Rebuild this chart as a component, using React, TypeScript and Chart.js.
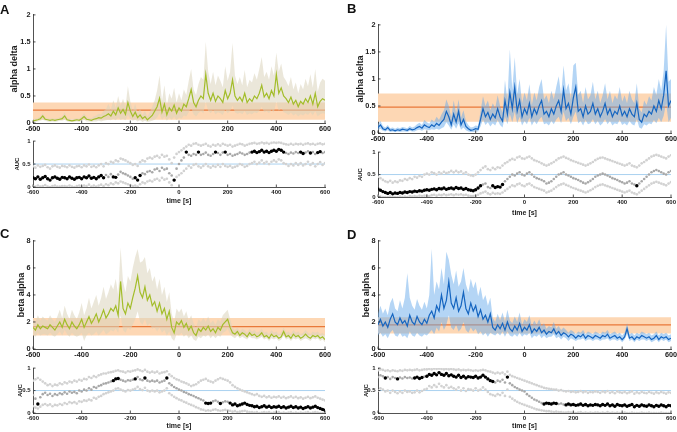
import React, { useEffect, useRef } from "react";
import { Chart, registerables } from "chart.js";

Chart.register(...registerables);
Chart.defaults.font.family = "'Liberation Sans', Arial, Helvetica, sans-serif";
Chart.defaults.color = "#1a1a1a";

// ---------- data ----------
const TIME: number[] = Array.from({ length: 121 }, (_, i) => -600 + 10 * i);
const X_TICKS = [-600, -400, -200, 0, 200, 400, 600];
const ALPHA_DELTA_TICKS = [0, 0.5, 1, 1.5, 2];
const BETA_ALPHA_TICKS = [0, 2, 4, 6, 8];
const AUC_TICKS = [0, 0.5, 1];
const AUC_CHANCE = 0.5;

// baseline reference [low, mean, high]
const A_REF = [0.06, 0.24, 0.38];
const B_REF = [0.21, 0.48, 0.73];
const C_REF = [1.0, 1.65, 2.3];
const D_REF = [1.14, 1.78, 2.34];

const A_MEAN = [
  0.04, 0.05, 0.06, 0.08, 0.13, 0.07, 0.06, 0.05, 0.06, 0.05,
  0.06, 0.07, 0.08, 0.13, 0.06, 0.05, 0.04, 0.05, 0.06, 0.05,
  0.08, 0.12, 0.07, 0.06, 0.05, 0.07, 0.08, 0.10, 0.09, 0.12,
  0.14, 0.17, 0.13, 0.22, 0.15, 0.28, 0.18, 0.25, 0.16, 0.38,
  0.22, 0.12, 0.20, 0.10, 0.15, 0.08, 0.12, 0.06, 0.10, 0.14,
  0.22, 0.30, 0.46, 0.20, 0.35, 0.15, 0.28, 0.22, 0.33, 0.18,
  0.28, 0.22, 0.35, 0.30, 0.45, 0.62, 0.38, 0.30, 0.42, 0.50,
  0.45, 0.90, 0.55, 0.42, 0.55, 0.40, 0.50, 0.45, 0.38, 0.60,
  0.45, 0.55, 0.80, 0.50, 0.42, 0.48, 0.40, 0.55, 0.38, 0.45,
  0.40, 0.50, 0.45, 0.55, 0.70, 0.48, 0.55, 0.45, 0.60, 0.50,
  0.90, 0.55, 0.65, 0.50, 0.45, 0.38, 0.48, 0.35, 0.42, 0.30,
  0.40, 0.35, 0.45, 0.38, 0.50, 0.35, 0.55, 0.30, 0.40, 0.45,
  0.42,
];
const A_UPPER = [
  0.07, 0.08, 0.09, 0.12, 0.18, 0.10, 0.09, 0.08, 0.09, 0.08,
  0.09, 0.10, 0.12, 0.20, 0.09, 0.08, 0.07, 0.08, 0.09, 0.08,
  0.12, 0.18, 0.11, 0.09, 0.09, 0.12, 0.14, 0.17, 0.16, 0.22,
  0.26, 0.35, 0.24, 0.42, 0.28, 0.50, 0.32, 0.45, 0.30, 0.68,
  0.40, 0.22, 0.35, 0.18, 0.26, 0.15, 0.22, 0.12, 0.20, 0.30,
  0.42, 0.60, 0.88, 0.40, 0.70, 0.32, 0.55, 0.45, 0.65, 0.38,
  0.55, 0.42, 0.62, 0.52, 0.78, 1.00, 0.62, 0.52, 0.72, 0.85,
  0.80, 1.50, 0.95, 0.72, 0.95, 0.70, 0.88, 0.78, 0.66, 1.05,
  0.78, 0.95, 1.48, 0.88, 0.72, 0.85, 0.70, 0.98, 0.66, 0.80,
  0.75, 0.92, 0.80, 1.00, 1.22, 0.85, 0.95, 0.80, 1.05, 0.88,
  1.30, 0.95, 1.10, 0.85, 0.78, 0.68, 0.85, 0.62, 0.75, 0.55,
  0.72, 0.62, 0.82, 0.68, 0.90, 0.65, 1.00, 0.58, 0.75, 0.82,
  0.78,
];
const A_LOWER = [
  0.02, 0.02, 0.03, 0.04, 0.06, 0.04, 0.03, 0.02, 0.03, 0.02,
  0.03, 0.04, 0.04, 0.06, 0.03, 0.02, 0.02, 0.02, 0.03, 0.02,
  0.04, 0.06, 0.03, 0.03, 0.02, 0.03, 0.03, 0.04, 0.03, 0.04,
  0.05, 0.06, 0.05, 0.08, 0.05, 0.10, 0.06, 0.08, 0.05, 0.15,
  0.08, 0.04, 0.06, 0.03, 0.05, 0.02, 0.04, 0.02, 0.03, 0.04,
  0.06, 0.10, 0.18, 0.06, 0.12, 0.04, 0.10, 0.06, 0.12, 0.05,
  0.10, 0.08, 0.14, 0.12, 0.20, 0.28, 0.16, 0.12, 0.18, 0.22,
  0.18, 0.40, 0.22, 0.18, 0.24, 0.16, 0.20, 0.18, 0.15, 0.25,
  0.18, 0.22, 0.32, 0.20, 0.17, 0.19, 0.16, 0.22, 0.15, 0.18,
  0.16, 0.20, 0.18, 0.22, 0.30, 0.20, 0.22, 0.18, 0.25, 0.20,
  0.40, 0.22, 0.28, 0.20, 0.18, 0.15, 0.19, 0.14, 0.17, 0.12,
  0.16, 0.14, 0.18, 0.15, 0.20, 0.14, 0.22, 0.12, 0.16, 0.18,
  0.17,
];

const B_MEAN = [
  0.10, 0.15, 0.08, 0.06, 0.10, 0.05, 0.06, 0.04, 0.06, 0.05,
  0.07, 0.06, 0.05, 0.08, 0.06, 0.07, 0.10, 0.12, 0.09, 0.15,
  0.12, 0.10, 0.15, 0.12, 0.18, 0.14, 0.20, 0.25, 0.40, 0.30,
  0.15, 0.35, 0.20, 0.40, 0.15, 0.25, 0.12, 0.08, 0.05, 0.06,
  0.08, 0.07, 0.25, 0.45, 0.30, 0.38, 0.25, 0.35, 0.28, 0.45,
  0.30, 0.22, 0.60, 0.35, 0.75, 0.45, 0.85, 0.40, 0.60, 0.30,
  0.45, 0.35, 0.55, 0.30, 0.45, 0.35, 0.50, 0.60, 0.35, 0.40,
  0.30, 0.45, 0.35, 0.50, 0.60, 0.40, 0.80, 0.45, 0.55, 0.35,
  0.65, 0.85, 0.40, 0.45, 0.30, 0.50, 0.35, 0.40, 0.55, 0.35,
  0.45, 0.30, 0.40, 0.55, 0.35, 0.45, 0.30, 0.40, 0.35, 0.50,
  0.32, 0.40, 0.30, 0.45, 0.35, 0.30, 0.55, 0.25, 0.20, 0.35,
  0.30, 0.40, 0.35, 0.50, 0.40, 0.60, 0.45, 0.70, 1.15, 0.50,
  0.60,
];
const B_UPPER = [
  0.16, 0.22, 0.13, 0.10, 0.15, 0.09, 0.10, 0.08, 0.10, 0.09,
  0.11, 0.10, 0.09, 0.13, 0.10, 0.12, 0.16, 0.19, 0.15, 0.24,
  0.20, 0.17, 0.25, 0.21, 0.30, 0.24, 0.34, 0.42, 0.62, 0.50,
  0.28, 0.60, 0.36, 0.62, 0.28, 0.42, 0.22, 0.15, 0.10, 0.11,
  0.14, 0.13, 0.40, 0.68, 0.50, 0.60, 0.42, 0.55, 0.46, 0.70,
  0.50, 0.38, 0.98, 0.60, 1.55, 0.80, 1.40, 0.72, 1.00, 0.55,
  0.75, 0.60, 0.90, 0.52, 0.75, 0.60, 0.85, 1.00, 0.62, 0.70,
  0.55, 0.78, 0.62, 0.85, 1.05, 0.70, 1.25, 0.78, 0.92, 0.62,
  1.25, 1.30, 0.70, 0.78, 0.55, 0.85, 0.62, 0.70, 0.95, 0.62,
  0.78, 0.55, 0.70, 0.92, 0.62, 0.78, 0.55, 0.70, 0.62, 0.85,
  0.58, 0.70, 0.55, 0.78, 0.62, 0.55, 0.92, 0.45, 0.38, 0.60,
  0.52, 0.68, 0.60, 0.85, 0.70, 1.00, 0.78, 1.15, 2.00, 0.95,
  1.00,
];
const B_LOWER = [
  0.05, 0.08, 0.04, 0.03, 0.05, 0.02, 0.03, 0.02, 0.03, 0.02,
  0.03, 0.03, 0.02, 0.04, 0.03, 0.03, 0.05, 0.06, 0.04, 0.07,
  0.06, 0.05, 0.07, 0.06, 0.08, 0.06, 0.09, 0.11, 0.20, 0.14,
  0.06, 0.16, 0.08, 0.18, 0.06, 0.10, 0.05, 0.03, 0.02, 0.02,
  0.03, 0.03, 0.12, 0.25, 0.15, 0.20, 0.12, 0.18, 0.14, 0.24,
  0.15, 0.10, 0.30, 0.16, 0.35, 0.20, 0.40, 0.18, 0.30, 0.14,
  0.22, 0.16, 0.28, 0.14, 0.22, 0.16, 0.25, 0.30, 0.16, 0.18,
  0.14, 0.22, 0.16, 0.25, 0.30, 0.18, 0.40, 0.22, 0.28, 0.16,
  0.30, 0.40, 0.18, 0.22, 0.14, 0.24, 0.16, 0.18, 0.26, 0.16,
  0.22, 0.14, 0.18, 0.26, 0.16, 0.22, 0.14, 0.18, 0.16, 0.24,
  0.15, 0.18, 0.14, 0.22, 0.16, 0.14, 0.26, 0.10, 0.08, 0.16,
  0.14, 0.18, 0.16, 0.24, 0.18, 0.28, 0.20, 0.32, 0.55, 0.20,
  0.28,
];

const C_MEAN = [
  1.6, 1.4, 1.8, 1.5, 1.7, 1.6, 1.5, 1.8, 1.6, 1.4,
  1.7, 2.0, 1.6, 2.2, 1.8, 1.5, 2.0, 1.7, 1.5, 1.8,
  2.2, 1.6, 2.0, 2.4, 1.9, 2.2, 2.6, 2.0, 2.4, 2.9,
  2.3, 2.6, 3.0, 2.8, 3.2, 2.5, 5.0, 3.0, 2.6, 3.4,
  3.0, 3.8, 4.5, 5.4, 4.2, 3.8, 4.6, 3.6, 4.0, 3.2,
  3.5, 2.8, 3.4, 2.6, 3.0, 2.2, 2.8, 1.6, 1.2, 2.0,
  1.8, 2.1, 1.6, 1.9, 1.4, 1.7, 1.2, 1.0, 1.5, 1.3,
  1.6, 1.4, 1.7, 1.3, 1.5, 1.2, 1.6, 1.4, 1.8, 2.0,
  2.2, 1.6, 1.2, 1.1, 1.3, 1.0, 1.2, 1.1, 0.9, 1.2,
  1.0, 1.1, 0.9, 1.0, 1.2, 0.9, 1.0, 0.8, 1.1, 0.9,
  1.0, 0.8, 0.9, 1.3, 0.9, 1.0, 0.8, 1.1, 0.9, 1.0,
  0.8, 0.9, 1.1, 0.9, 0.8, 1.0, 0.9, 1.0, 0.8, 0.9,
  0.7,
];
const C_UPPER = [
  2.3, 2.0, 2.5, 2.1, 2.4, 2.2, 2.1, 2.5, 2.2, 2.0,
  2.4, 2.9, 2.3, 3.2, 2.6, 2.2, 2.9, 2.5, 2.2, 2.7,
  3.4, 2.5, 3.0, 3.8, 3.0, 3.5, 4.0, 3.2, 3.8, 4.6,
  3.7, 4.2, 4.8, 4.4, 5.2, 4.0, 7.5, 5.0, 4.2, 5.4,
  5.0, 6.0, 6.8, 7.4, 6.4, 6.5, 6.8, 5.6, 6.0, 5.0,
  5.4, 4.4, 5.2, 4.0, 4.6, 3.5, 4.2, 2.6, 2.0, 3.0,
  2.7, 3.0, 2.4, 2.8, 2.1, 2.5, 1.9, 1.6, 2.2, 2.0,
  2.3, 2.0, 2.4, 1.9, 2.1, 1.8, 2.2, 2.0, 2.5, 2.7,
  2.9, 2.2, 1.6, 1.4, 1.6, 1.3, 1.5, 1.4, 1.2, 1.5,
  1.3, 1.4, 1.2, 1.3, 1.5, 1.2, 1.3, 1.1, 1.4, 1.2,
  1.3, 1.1, 1.2, 1.6, 1.2, 1.3, 1.1, 1.4, 1.2, 1.3,
  1.1, 1.2, 1.4, 1.2, 1.1, 1.3, 1.2, 1.3, 1.1, 1.2,
  1.0,
];
const C_LOWER = [
  1.1, 0.9, 1.2, 1.0, 1.1, 1.1, 1.0, 1.2, 1.0, 0.9,
  1.1, 1.3, 1.0, 1.4, 1.1, 0.9, 1.2, 1.0, 0.9, 1.0,
  1.2, 0.6, 1.0, 1.2, 1.0, 1.1, 1.3, 1.0, 1.2, 1.4,
  1.1, 1.2, 1.4, 1.3, 1.5, 1.2, 2.5, 1.4, 1.2, 1.6,
  1.4, 1.8, 2.2, 2.8, 2.0, 1.8, 2.2, 1.7, 1.9, 1.5,
  1.6, 1.3, 1.6, 1.2, 1.4, 1.0, 1.3, 0.8, 0.6, 1.1,
  1.0, 1.2, 0.9, 1.1, 0.8, 1.0, 0.7, 0.6, 0.9, 0.8,
  1.0, 0.9, 1.1, 0.8, 1.0, 0.8, 1.0, 0.9, 1.2, 1.3,
  1.5, 1.1, 0.9, 0.8, 1.0, 0.8, 0.9, 0.8, 0.7, 0.9,
  0.8, 0.8, 0.7, 0.8, 0.9, 0.7, 0.8, 0.6, 0.8, 0.7,
  0.8, 0.6, 0.7, 1.0, 0.7, 0.8, 0.6, 0.8, 0.7, 0.8,
  0.6, 0.7, 0.8, 0.7, 0.6, 0.8, 0.7, 0.8, 0.6, 0.7,
  0.5,
];

const D_MEAN = [
  1.8, 2.2, 1.7, 2.0, 1.6, 2.2, 2.6, 2.0, 1.8, 2.3,
  1.9, 2.1, 1.7, 2.5, 2.0, 1.8, 2.4, 2.0, 1.8, 2.2,
  1.9, 2.5, 2.8, 2.3, 3.2, 2.8, 4.0, 3.0, 3.6, 5.0,
  3.4, 3.0, 3.8, 2.8, 3.2, 4.2, 3.0, 2.6, 3.4, 2.8,
  3.2, 2.4, 2.9, 2.2, 2.5, 2.0, 2.6, 1.6, 1.4, 1.8,
  1.5, 1.9, 1.4, 2.0, 1.5, 1.3, 1.7, 1.4, 1.9, 1.3,
  1.6, 1.4, 1.8, 1.2, 1.5, 1.3, 1.6, 1.2, 1.4, 1.1,
  1.3, 1.2, 1.5, 1.1, 1.3, 1.0, 1.2, 1.1, 0.9, 1.1,
  1.0, 0.8, 1.0, 0.9, 1.1, 0.8, 1.0, 0.9, 0.8, 1.0,
  0.9, 0.8, 1.0, 0.9, 1.1, 0.8, 0.9, 1.0, 0.8, 0.9,
  0.7, 0.9, 1.5, 0.8, 0.9, 0.7, 0.9, 0.8, 1.0, 0.9,
  0.8, 0.9, 0.7, 0.8, 1.0, 0.7, 0.9, 0.8, 0.9, 0.7,
  0.8,
];
const D_UPPER = [
  2.6, 3.2, 2.6, 3.0, 2.5, 3.4, 3.8, 3.0, 2.8, 3.6,
  3.0, 3.8, 5.6, 3.8, 3.2, 2.9, 3.7, 3.2, 2.9, 3.5,
  3.0, 4.0, 7.4, 4.0, 5.0, 4.4, 6.0, 4.8, 7.2, 6.6,
  5.5, 4.8, 5.8, 4.6, 5.0, 6.0, 4.8, 4.2, 5.2, 4.5,
  5.0, 3.9, 4.6, 3.6, 4.0, 3.2, 3.8, 2.3, 2.0, 2.6,
  2.1, 2.7, 2.0, 2.9, 2.1, 1.9, 2.4, 2.0, 2.7, 1.8,
  2.2, 2.0, 2.5, 1.7, 2.1, 1.8, 2.2, 1.7, 1.9, 1.5,
  1.7, 1.6, 2.0, 1.5, 1.7, 1.4, 1.6, 1.4, 1.2, 1.4,
  1.3, 1.1, 1.3, 1.2, 1.4, 1.1, 1.3, 1.2, 1.1, 1.3,
  1.2, 1.1, 1.3, 1.2, 1.4, 1.1, 1.2, 1.3, 1.1, 1.2,
  1.0, 1.2, 1.9, 1.1, 1.2, 1.0, 1.2, 1.1, 1.3, 1.2,
  1.1, 1.2, 1.0, 1.1, 1.3, 1.0, 1.2, 1.1, 1.2, 1.0,
  1.1,
];
const D_LOWER = [
  1.0, 1.2, 0.9, 1.1, 0.8, 1.2, 1.4, 1.0, 0.9, 1.2,
  0.9, 1.0, 0.8, 1.3, 1.0, 0.9, 1.2, 1.0, 0.9, 1.1,
  1.0, 1.2, 1.4, 1.1, 1.6, 1.3, 2.0, 1.4, 1.8, 2.5,
  1.6, 1.4, 1.8, 1.3, 1.5, 2.0, 1.4, 1.2, 1.6, 1.3,
  1.5, 1.1, 1.3, 1.0, 1.2, 0.9, 1.2, 1.1, 1.0, 1.2,
  1.0, 1.3, 0.9, 1.3, 1.0, 0.9, 1.1, 0.9, 1.2, 0.9,
  1.1, 1.0, 1.2, 0.8, 1.0, 0.9, 1.1, 0.8, 1.0, 0.8,
  0.9, 0.9, 1.1, 0.8, 0.9, 0.7, 0.9, 0.8, 0.6, 0.8,
  0.7, 0.6, 0.7, 0.7, 0.8, 0.6, 0.7, 0.7, 0.6, 0.7,
  0.7, 0.6, 0.7, 0.7, 0.8, 0.6, 0.7, 0.7, 0.6, 0.7,
  0.5, 0.7, 1.1, 0.6, 0.7, 0.5, 0.7, 0.6, 0.7, 0.7,
  0.6, 0.7, 0.5, 0.6, 0.7, 0.5, 0.7, 0.6, 0.7, 0.5,
  0.6,
];

// AUC (mean, upper/lower bound) and significant time ranges
const AUC_A_MEAN = [
  0.20, 0.18, 0.22, 0.17, 0.20, 0.23, 0.18, 0.15, 0.20, 0.22,
  0.19, 0.17, 0.21, 0.20, 0.18, 0.22, 0.19, 0.17, 0.20, 0.21,
  0.18, 0.22, 0.20, 0.24, 0.19, 0.21, 0.18, 0.22, 0.25, 0.20,
  0.26, 0.22, 0.28, 0.22, 0.21, 0.27, 0.33, 0.30, 0.28, 0.25,
  0.22, 0.18, 0.20, 0.15, 0.25, 0.30, 0.28, 0.33, 0.35, 0.32,
  0.38, 0.40, 0.35, 0.42, 0.38, 0.40, 0.30, 0.25, 0.15, 0.40,
  0.50, 0.58, 0.64, 0.76, 0.70, 0.68, 0.72, 0.70, 0.76, 0.70,
  0.72, 0.75, 0.70, 0.68, 0.72, 0.76, 0.74, 0.70, 0.75, 0.76,
  0.70, 0.72, 0.68, 0.70, 0.72, 0.75, 0.73, 0.70, 0.72, 0.75,
  0.76, 0.78, 0.75, 0.77, 0.80, 0.76, 0.78, 0.75, 0.78, 0.80,
  0.78, 0.82, 0.80, 0.76, 0.74, 0.72, 0.75, 0.73, 0.76, 0.74,
  0.76, 0.73, 0.75, 0.78, 0.74, 0.76, 0.72, 0.75, 0.77, 0.74,
  0.76,
];
const AUC_A_UPPER = [
  0.45, 0.42, 0.47, 0.44, 0.46, 0.48, 0.43, 0.40, 0.45, 0.47,
  0.44, 0.42, 0.46, 0.45, 0.43, 0.47, 0.44, 0.42, 0.45, 0.46,
  0.43, 0.47, 0.45, 0.49, 0.44, 0.46, 0.43, 0.47, 0.50, 0.45,
  0.52, 0.50, 0.55, 0.53, 0.58, 0.56, 0.62, 0.60, 0.58, 0.55,
  0.52, 0.48, 0.50, 0.46, 0.54, 0.58, 0.56, 0.62, 0.64, 0.62,
  0.66, 0.68, 0.64, 0.70, 0.66, 0.68, 0.60, 0.52, 0.64, 0.72,
  0.76, 0.80, 0.84, 0.88, 0.92, 0.90, 0.94, 0.95, 0.92, 0.90,
  0.92, 0.94, 0.90, 0.88, 0.92, 0.90, 0.93, 0.90, 0.94, 0.92,
  0.90, 0.92, 0.88, 0.90, 0.92, 0.94, 0.93, 0.90, 0.92, 0.94,
  0.95, 0.96, 0.94, 0.95, 0.97, 0.95, 0.96, 0.94, 0.96, 0.97,
  0.96, 0.97, 0.96, 0.94, 0.93, 0.92, 0.94, 0.92, 0.94, 0.93,
  0.94, 0.92, 0.94, 0.95, 0.93, 0.94, 0.92, 0.94, 0.95, 0.93,
  0.94,
];
const AUC_A_LOWER = [
  0.02, 0.01, 0.03, 0.01, 0.02, 0.04, 0.01, 0.00, 0.02, 0.03,
  0.01, 0.01, 0.02, 0.02, 0.01, 0.03, 0.01, 0.00, 0.02, 0.03,
  0.01, 0.03, 0.02, 0.05, 0.01, 0.03, 0.01, 0.03, 0.05, 0.02,
  0.06, 0.04, 0.08, 0.06, 0.10, 0.08, 0.12, 0.10, 0.08, 0.06,
  0.04, 0.02, 0.03, 0.01, 0.06, 0.10, 0.08, 0.12, 0.14, 0.12,
  0.16, 0.18, 0.14, 0.20, 0.16, 0.18, 0.10, 0.04, 0.14, 0.22,
  0.26, 0.30, 0.35, 0.40, 0.46, 0.42, 0.48, 0.50, 0.45, 0.42,
  0.46, 0.50, 0.45, 0.42, 0.46, 0.44, 0.48, 0.44, 0.50, 0.46,
  0.44, 0.46, 0.42, 0.44, 0.46, 0.50, 0.48, 0.44, 0.46, 0.50,
  0.52, 0.55, 0.50, 0.53, 0.58, 0.52, 0.55, 0.50, 0.55, 0.58,
  0.55, 0.60, 0.58, 0.52, 0.50, 0.46, 0.50, 0.47, 0.52, 0.48,
  0.52, 0.47, 0.50, 0.55, 0.48, 0.52, 0.45, 0.50, 0.54, 0.48,
  0.52,
];
const AUC_A_SIG = [[-600, -310], [-270, -260], [-180, -160], [-20, -20], [30, 30], [80, 80], [150, 150], [190, 190], [300, 430], [500, 510], [540, 540], [570, 580]];

const AUC_B_MEAN = [
  0.18, 0.15, 0.12, 0.10, 0.08, 0.10, 0.07, 0.09, 0.08, 0.10,
  0.09, 0.11, 0.10, 0.12, 0.11, 0.13, 0.12, 0.14, 0.13, 0.15,
  0.16, 0.15, 0.17, 0.18, 0.16, 0.19, 0.18, 0.20, 0.17, 0.19,
  0.20, 0.18, 0.21, 0.19, 0.20, 0.17, 0.19, 0.16, 0.15, 0.14,
  0.16, 0.20, 0.25, 0.28, 0.30, 0.22, 0.20, 0.25, 0.21, 0.23,
  0.22, 0.28, 0.35, 0.40, 0.45, 0.50, 0.48, 0.52, 0.55, 0.50,
  0.48, 0.52, 0.55, 0.50, 0.45, 0.42, 0.40, 0.38, 0.35, 0.30,
  0.32, 0.35, 0.40, 0.45, 0.50, 0.52, 0.55, 0.50, 0.48, 0.45,
  0.42, 0.40, 0.38, 0.35, 0.32, 0.30, 0.33, 0.36, 0.40, 0.45,
  0.48, 0.50, 0.52, 0.50, 0.48, 0.45, 0.42, 0.40, 0.38, 0.35,
  0.33, 0.30, 0.32, 0.35, 0.30, 0.28, 0.25, 0.30, 0.35, 0.40,
  0.45, 0.50, 0.55, 0.58, 0.60, 0.58, 0.55, 0.52, 0.50, 0.55,
  0.58,
];
const AUC_B_UPPER = [
  0.45, 0.42, 0.38, 0.35, 0.33, 0.36, 0.32, 0.35, 0.33, 0.37,
  0.36, 0.40, 0.38, 0.42, 0.40, 0.45, 0.43, 0.47, 0.45, 0.50,
  0.52, 0.50, 0.55, 0.53, 0.50, 0.55, 0.52, 0.56, 0.53, 0.55,
  0.58, 0.55, 0.58, 0.55, 0.57, 0.52, 0.55, 0.50, 0.48, 0.47,
  0.50, 0.55, 0.60, 0.65, 0.68, 0.62, 0.60, 0.65, 0.62, 0.66,
  0.65, 0.70, 0.75, 0.78, 0.82, 0.85, 0.83, 0.88, 0.90, 0.86,
  0.85, 0.88, 0.90, 0.86, 0.82, 0.80, 0.78, 0.75, 0.72, 0.70,
  0.72, 0.75, 0.78, 0.82, 0.86, 0.88, 0.90, 0.87, 0.85, 0.82,
  0.80, 0.78, 0.76, 0.74, 0.72, 0.70, 0.72, 0.75, 0.78, 0.82,
  0.85, 0.87, 0.88, 0.86, 0.84, 0.82, 0.80, 0.78, 0.76, 0.74,
  0.72, 0.70, 0.72, 0.75, 0.70, 0.68, 0.66, 0.70, 0.75, 0.78,
  0.82, 0.86, 0.90, 0.92, 0.94, 0.92, 0.90, 0.88, 0.86, 0.90,
  0.93,
];
const AUC_B_LOWER = [
  0.02, 0.01, 0.00, 0.00, 0.00, 0.01, 0.00, 0.00, 0.00, 0.01,
  0.00, 0.01, 0.00, 0.02, 0.01, 0.02, 0.01, 0.03, 0.02, 0.03,
  0.03, 0.02, 0.04, 0.05, 0.03, 0.05, 0.04, 0.06, 0.04, 0.05,
  0.06, 0.04, 0.06, 0.05, 0.06, 0.04, 0.05, 0.03, 0.02, 0.02,
  0.03, 0.05, 0.08, 0.10, 0.12, 0.08, 0.06, 0.09, 0.07, 0.08,
  0.07, 0.10, 0.14, 0.18, 0.22, 0.26, 0.24, 0.28, 0.30, 0.26,
  0.24, 0.28, 0.30, 0.26, 0.22, 0.20, 0.18, 0.16, 0.14, 0.10,
  0.12, 0.14, 0.18, 0.22, 0.26, 0.28, 0.30, 0.27, 0.25, 0.22,
  0.20, 0.18, 0.16, 0.14, 0.12, 0.10, 0.12, 0.15, 0.18, 0.22,
  0.25, 0.27, 0.28, 0.26, 0.24, 0.22, 0.20, 0.18, 0.16, 0.14,
  0.12, 0.10, 0.12, 0.14, 0.10, 0.08, 0.06, 0.10, 0.14, 0.18,
  0.22, 0.26, 0.30, 0.32, 0.34, 0.32, 0.30, 0.28, 0.26, 0.30,
  0.33,
];
const AUC_B_SIG = [[-600, -180], [-130, -90], [460, 460]];

const AUC_C_MEAN = [
  0.40, 0.32, 0.20, 0.35, 0.42, 0.45, 0.40, 0.43, 0.38, 0.42,
  0.40, 0.44, 0.42, 0.46, 0.43, 0.48, 0.45, 0.47, 0.44, 0.50,
  0.48, 0.52, 0.50, 0.55, 0.52, 0.58, 0.56, 0.60, 0.62, 0.65,
  0.66, 0.68, 0.70, 0.72, 0.76, 0.77, 0.74, 0.72, 0.70, 0.73,
  0.72, 0.74, 0.76, 0.80, 0.75, 0.73, 0.78, 0.72, 0.70, 0.72,
  0.70, 0.72, 0.68, 0.70, 0.72, 0.78, 0.66, 0.62, 0.58, 0.55,
  0.52, 0.50, 0.47, 0.45, 0.42, 0.40, 0.38, 0.35, 0.33, 0.30,
  0.28, 0.22, 0.21, 0.22, 0.26, 0.28, 0.25, 0.21, 0.24, 0.26,
  0.25, 0.22, 0.18, 0.20, 0.16, 0.18, 0.20, 0.22, 0.19, 0.17,
  0.16, 0.14, 0.15, 0.12, 0.14, 0.16, 0.13, 0.15, 0.12, 0.14,
  0.13, 0.15, 0.12, 0.14, 0.11, 0.13, 0.15, 0.12, 0.14, 0.11,
  0.13, 0.10, 0.12, 0.14, 0.11, 0.13, 0.15, 0.12, 0.10, 0.08,
  0.06,
];
const AUC_C_UPPER = [
  0.72, 0.75, 0.78, 0.74, 0.70, 0.66, 0.62, 0.64, 0.60, 0.63,
  0.62, 0.66, 0.64, 0.68, 0.66, 0.70, 0.68, 0.72, 0.70, 0.74,
  0.72, 0.76, 0.75, 0.80, 0.78, 0.82, 0.80, 0.84, 0.86, 0.88,
  0.88, 0.90, 0.91, 0.92, 0.94, 0.95, 0.93, 0.92, 0.90, 0.93,
  0.92, 0.94, 0.95, 0.97, 0.95, 0.93, 0.96, 0.92, 0.90, 0.92,
  0.90, 0.92, 0.88, 0.90, 0.91, 0.93, 0.86, 0.82, 0.78, 0.75,
  0.73, 0.70, 0.68, 0.66, 0.63, 0.60, 0.62, 0.64, 0.68, 0.72,
  0.74, 0.76, 0.72, 0.70, 0.68, 0.72, 0.75, 0.78, 0.76, 0.74,
  0.72, 0.68, 0.62, 0.58, 0.55, 0.52, 0.50, 0.48, 0.46, 0.44,
  0.42, 0.40, 0.42, 0.38, 0.36, 0.38, 0.35, 0.37, 0.34, 0.36,
  0.35, 0.37, 0.34, 0.36, 0.33, 0.35, 0.37, 0.34, 0.36, 0.33,
  0.35, 0.32, 0.34, 0.36, 0.33, 0.35, 0.37, 0.34, 0.32, 0.30,
  0.28,
];
const AUC_C_LOWER = [
  0.15, 0.12, 0.10, 0.14, 0.18, 0.20, 0.17, 0.19, 0.15, 0.18,
  0.17, 0.20, 0.18, 0.22, 0.20, 0.24, 0.22, 0.24, 0.21, 0.26,
  0.25, 0.28, 0.27, 0.30, 0.28, 0.34, 0.32, 0.36, 0.38, 0.42,
  0.44, 0.46, 0.48, 0.50, 0.54, 0.55, 0.52, 0.50, 0.48, 0.51,
  0.50, 0.52, 0.54, 0.58, 0.53, 0.51, 0.56, 0.50, 0.48, 0.50,
  0.48, 0.50, 0.46, 0.48, 0.50, 0.55, 0.44, 0.40, 0.36, 0.33,
  0.30, 0.28, 0.25, 0.23, 0.20, 0.18, 0.16, 0.13, 0.11, 0.08,
  0.07, 0.05, 0.06, 0.05, 0.07, 0.08, 0.06, 0.05, 0.06, 0.07,
  0.06, 0.05, 0.03, 0.04, 0.02, 0.03, 0.04, 0.05, 0.03, 0.02,
  0.02, 0.01, 0.02, 0.00, 0.01, 0.02, 0.01, 0.02, 0.00, 0.01,
  0.01, 0.02, 0.00, 0.01, 0.00, 0.01, 0.02, 0.00, 0.01, 0.00,
  0.01, 0.00, 0.01, 0.02, 0.00, 0.01, 0.02, 0.01, 0.00, 0.00,
  0.00,
];
const AUC_C_SIG = [[-580, -580], [-270, -250], [-180, -180], [-140, -140], [-50, -50], [110, 130], [170, 170], [210, 600]];

const AUC_D_MEAN = [
  0.80, 0.84, 0.82, 0.78, 0.80, 0.76, 0.80, 0.78, 0.76, 0.79,
  0.77, 0.80, 0.78, 0.79, 0.77, 0.78, 0.80, 0.77, 0.79, 0.81,
  0.82, 0.86, 0.84, 0.88, 0.85, 0.90, 0.86, 0.84, 0.88, 0.83,
  0.85, 0.82, 0.80, 0.84, 0.79, 0.82, 0.78, 0.81, 0.80, 0.79,
  0.82, 0.78, 0.80, 0.84, 0.80, 0.76, 0.72, 0.70, 0.68, 0.72,
  0.70, 0.74, 0.68, 0.80, 0.66, 0.62, 0.58, 0.55, 0.52, 0.50,
  0.48, 0.42, 0.38, 0.34, 0.30, 0.28, 0.25, 0.22, 0.20, 0.22,
  0.21, 0.20, 0.22, 0.21, 0.20, 0.21, 0.19, 0.18, 0.20, 0.18,
  0.19, 0.17, 0.18, 0.20, 0.17, 0.19, 0.16, 0.18, 0.17, 0.19,
  0.18, 0.16, 0.19, 0.17, 0.20, 0.16, 0.18, 0.15, 0.19, 0.17,
  0.16, 0.18, 0.15, 0.17, 0.19, 0.14, 0.17, 0.15, 0.18, 0.16,
  0.15, 0.18, 0.16, 0.14, 0.17, 0.15, 0.18, 0.16, 0.14, 0.17,
  0.16,
];
const AUC_D_UPPER = [
  0.95, 0.97, 0.96, 0.94, 0.95, 0.93, 0.95, 0.94, 0.93, 0.95,
  0.94, 0.96, 0.95, 0.96, 0.95, 0.96, 0.97, 0.95, 0.96, 0.97,
  0.97, 0.98, 0.97, 0.99, 0.98, 0.99, 0.98, 0.97, 0.98, 0.97,
  0.98, 0.97, 0.96, 0.97, 0.95, 0.96, 0.95, 0.96, 0.95, 0.94,
  0.95, 0.94, 0.95, 0.96, 0.95, 0.93, 0.92, 0.90, 0.88, 0.90,
  0.88, 0.90, 0.86, 0.92, 0.85, 0.82, 0.80, 0.78, 0.76, 0.74,
  0.72, 0.70, 0.68, 0.66, 0.64, 0.62, 0.60, 0.58, 0.56, 0.55,
  0.54, 0.53, 0.52, 0.52, 0.50, 0.51, 0.49, 0.48, 0.49, 0.47,
  0.48, 0.46, 0.47, 0.49, 0.46, 0.48, 0.45, 0.47, 0.46, 0.48,
  0.47, 0.45, 0.48, 0.46, 0.49, 0.45, 0.47, 0.44, 0.48, 0.46,
  0.45, 0.47, 0.44, 0.46, 0.48, 0.43, 0.46, 0.44, 0.47, 0.45,
  0.44, 0.47, 0.45, 0.43, 0.46, 0.44, 0.47, 0.45, 0.43, 0.46,
  0.45,
];
const AUC_D_LOWER = [
  0.50, 0.55, 0.52, 0.48, 0.50, 0.45, 0.50, 0.47, 0.44, 0.48,
  0.45, 0.50, 0.47, 0.48, 0.45, 0.46, 0.50, 0.46, 0.49, 0.52,
  0.54, 0.60, 0.57, 0.62, 0.58, 0.65, 0.60, 0.57, 0.62, 0.56,
  0.58, 0.55, 0.52, 0.57, 0.50, 0.55, 0.49, 0.53, 0.52, 0.50,
  0.55, 0.50, 0.52, 0.57, 0.52, 0.47, 0.42, 0.40, 0.38, 0.42,
  0.40, 0.45, 0.38, 0.52, 0.36, 0.32, 0.28, 0.25, 0.22, 0.20,
  0.18, 0.16, 0.14, 0.12, 0.10, 0.08, 0.07, 0.06, 0.05, 0.04,
  0.04, 0.03, 0.02, 0.03, 0.02, 0.02, 0.01, 0.01, 0.02, 0.01,
  0.01, 0.00, 0.01, 0.02, 0.00, 0.01, 0.00, 0.01, 0.00, 0.01,
  0.01, 0.00, 0.01, 0.00, 0.02, 0.00, 0.01, 0.00, 0.01, 0.00,
  0.00, 0.01, 0.00, 0.00, 0.01, 0.00, 0.00, 0.00, 0.01, 0.00,
  0.00, 0.01, 0.00, 0.00, 0.00, 0.00, 0.01, 0.00, 0.00, 0.00,
  0.00,
];
const AUC_D_SIG = [[-570, -570], [-520, -520], [-450, -420], [-400, -130], [-70, -70], [80, 130], [170, 600]];

// ---------- styling / layout ----------
const YW = 30;
const PAD_T = 6;
const PAD_R = 10;
const MAIN_XH = 12;
const AUC_XH = 20;
const TICK_FONT = 7.3;
const AUC_TICK_FONT = 6;
const GREEN = "#a3bd2a";
const GREEN_BAND = "rgba(218,212,188,0.55)";
const BLUE = "#1565c0";
const BLUE_BAND = "rgba(105,172,235,0.5)";
const ORANGE = "#e9793a";
const ORANGE_BAND = "#fdd7b4";

const innerTicks = {
  id: "innerTicks",
  afterDraw(chart: any) {
    const { ctx, chartArea, scales } = chart;
    ctx.save();
    ctx.strokeStyle = "#262626";
    ctx.lineWidth = 0.8;
    for (const t of scales.x.ticks) {
      const px = scales.x.getPixelForValue(t.value);
      ctx.beginPath();
      ctx.moveTo(px, chartArea.bottom);
      ctx.lineTo(px, chartArea.bottom - 2.5);
      ctx.stroke();
    }
    for (const t of scales.y.ticks) {
      const py = scales.y.getPixelForValue(t.value);
      ctx.beginPath();
      ctx.moveTo(chartArea.left, py);
      ctx.lineTo(chartArea.left + 2.5, py);
      ctx.stroke();
    }
    ctx.restore();
  },
};

const pts = (arr: number[]) => arr.map((y, i) => ({ x: TIME[i], y }));
const flat = (y: number) => [{ x: -600, y }, { x: 600, y }];

function xScale(fontSize: number, xh: number, title?: { text: string; pad: number }) {
  return {
    type: "linear",
    min: -600,
    max: 600,
    afterBuildTicks: (s: any) => {
      s.ticks = X_TICKS.map((v) => ({ value: v }));
    },
    ticks: { font: { size: fontSize, weight: "bold" }, padding: 2, maxRotation: 0, autoSkip: false, color: "#1a1a1a", callback: (v: any) => String(v) },
    grid: { display: false, drawTicks: false },
    border: { display: true, color: "#262626", width: 0.8 },
    title: title
      ? { display: true, text: title.text, font: { size: 7, weight: "bold" }, color: "#1a1a1a", padding: { top: 0, bottom: title.pad } }
      : { display: false },
    afterFit: (s: any) => {
      s.height = xh;
    },
  };
}

function yScale(ticks: number[], fontSize: number, title: string, titleSize: number, titlePad: number) {
  return {
    type: "linear",
    min: ticks[0],
    max: ticks[ticks.length - 1],
    afterBuildTicks: (s: any) => {
      s.ticks = ticks.map((v) => ({ value: v }));
    },
    ticks: { font: { size: fontSize, weight: "bold" }, padding: 2.5, color: "#1a1a1a", callback: (v: any) => String(v) },
    grid: { display: false, drawTicks: false },
    border: { display: true, color: "#262626", width: 0.8 },
    title: { display: true, text: title, font: { size: titleSize, weight: "bold" }, color: "#1a1a1a", padding: { top: titlePad, bottom: 0 } },
    afterFit: (s: any) => {
      s.width = YW;
    },
  };
}

const baseOptions = {
  responsive: false,
  maintainAspectRatio: false,
  animation: false,
  events: [],
  layout: { padding: { top: PAD_T, right: PAD_R, left: 0, bottom: 0 } },
  plugins: { legend: { display: false }, tooltip: { enabled: false } },
};

function mainConfig(mean: number[], upper: number[], lower: number[], ref: number[], yTicks: number[], title: string, line: string, band: string, titlePad: number) {
  const hidden = { borderColor: "rgba(0,0,0,0)", borderWidth: 0, pointRadius: 0 };
  return {
    type: "line",
    data: {
      datasets: [
        { data: pts(mean), borderColor: line, borderWidth: 1.2, pointRadius: 0, fill: false, tension: 0, order: 0 },
        { data: pts(upper), ...hidden, backgroundColor: band, fill: 2, order: 1 },
        { data: pts(lower), ...hidden, fill: false, order: 2 },
        { data: flat(ref[1]), borderColor: ORANGE, borderWidth: 1.2, pointRadius: 0, fill: false, order: 3 },
        { data: flat(ref[2]), ...hidden, backgroundColor: ORANGE_BAND, fill: 5, order: 4 },
        { data: flat(ref[0]), ...hidden, fill: false, order: 5 },
      ],
    },
    options: {
      ...baseOptions,
      scales: { x: xScale(TICK_FONT, MAIN_XH), y: yScale(yTicks, TICK_FONT, title, 9, titlePad) },
    },
    plugins: [innerTicks],
  };
}

function aucConfig(mean: number[], upper: number[], lower: number[], sig: number[][], titlePad: number, xTitlePad: number) {
  const sigPts = pts(mean).filter((p) => sig.some(([a, b]) => p.x >= a && p.x <= b));
  const dots = (color: string, r: number) => ({ showLine: false, pointRadius: r, pointBackgroundColor: color, pointBorderColor: "rgba(0,0,0,0)", pointBorderWidth: 0 });
  return {
    type: "line",
    data: {
      datasets: [
        { data: sigPts, ...dots("#000000", 1.7), order: 0 },
        { data: pts(mean), ...dots("#a8a8a8", 1.3), order: 1 },
        { data: pts(upper), ...dots("#d2d2d2", 1.35), order: 2 },
        { data: pts(lower), ...dots("#d2d2d2", 1.35), order: 3 },
        { data: flat(AUC_CHANCE), borderColor: "#a9d1f0", borderWidth: 1, pointRadius: 0, fill: false, order: 4 },
      ],
    },
    options: {
      ...baseOptions,
      scales: {
        x: xScale(AUC_TICK_FONT, AUC_XH, { text: "time [s]", pad: xTitlePad }),
        y: yScale(AUC_TICKS, AUC_TICK_FONT, "AUC", 6, titlePad),
      },
    },
    plugins: [innerTicks],
  };
}

function rectFor(L: number, T: number, R: number, B: number, xh: number) {
  return { left: L - YW, top: T - PAD_T, width: R - L + YW + PAD_R, height: B - T + PAD_T + xh };
}

function ChartBox({ rect, config }: { rect: { left: number; top: number; width: number; height: number }; config: any }) {
  const ref = useRef<HTMLCanvasElement | null>(null);
  useEffect(() => {
    if (!ref.current) return;
    const chart = new Chart(ref.current, config);
    return () => chart.destroy();
  }, []);
  return (
    <canvas
      ref={ref}
      width={rect.width}
      height={rect.height}
      style={{ position: "absolute", left: rect.left, top: rect.top, width: rect.width, height: rect.height }}
    />
  );
}

const letterStyle = (left: number, top: number): React.CSSProperties => ({
  position: "absolute",
  left,
  top,
  font: "bold 13px 'Liberation Sans', Arial, sans-serif",
  lineHeight: "13px",
  color: "#111",
});

export default function App() {
  const panels = [
    { rect: rectFor(33, 14, 325, 123, MAIN_XH), config: mainConfig(A_MEAN, A_UPPER, A_LOWER, A_REF, ALPHA_DELTA_TICKS, "alpha delta", GREEN, GREEN_BAND, 6) },
    { rect: rectFor(33, 141, 325, 187, AUC_XH), config: aucConfig(AUC_A_MEAN, AUC_A_UPPER, AUC_A_LOWER, AUC_A_SIG, 10.9, 1.8) },
    { rect: rectFor(378, 24, 671, 133, MAIN_XH), config: mainConfig(B_MEAN, B_UPPER, B_LOWER, B_REF, ALPHA_DELTA_TICKS, "alpha delta", BLUE, BLUE_BAND, 7.6) },
    { rect: rectFor(378, 152, 671, 197, AUC_XH), config: aucConfig(AUC_B_MEAN, AUC_B_UPPER, AUC_B_LOWER, AUC_B_SIG, 8.4, 0.2) },
    { rect: rectFor(33, 240, 325, 349, MAIN_XH), config: mainConfig(C_MEAN, C_UPPER, C_LOWER, C_REF, BETA_ALPHA_TICKS, "beta alpha", GREEN, GREEN_BAND, 13.6) },
    { rect: rectFor(33, 368, 325, 413, AUC_XH), config: aucConfig(AUC_C_MEAN, AUC_C_UPPER, AUC_C_LOWER, AUC_C_SIG, 14.1, 2.8) },
    { rect: rectFor(378, 240, 671, 349, MAIN_XH), config: mainConfig(D_MEAN, D_UPPER, D_LOWER, D_REF, BETA_ALPHA_TICKS, "beta alpha", BLUE, BLUE_BAND, 13.6) },
    { rect: rectFor(378, 368, 671, 413, AUC_XH), config: aucConfig(AUC_D_MEAN, AUC_D_UPPER, AUC_D_LOWER, AUC_D_SIG, 14.4, 2.8) },
  ];
  return (
    <div style={{ position: "fixed", left: 0, top: 0, width: 677, height: 432, overflow: "hidden", background: "#fff" }}>
      {panels.map((p, i) => (
        <ChartBox key={i} rect={p.rect} config={p.config} />
      ))}
      <div style={letterStyle(0, 3)}>A</div>
      <div style={letterStyle(347, 2)}>B</div>
      <div style={letterStyle(0, 227)}>C</div>
      <div style={letterStyle(347, 228)}>D</div>
    </div>
  );
}
